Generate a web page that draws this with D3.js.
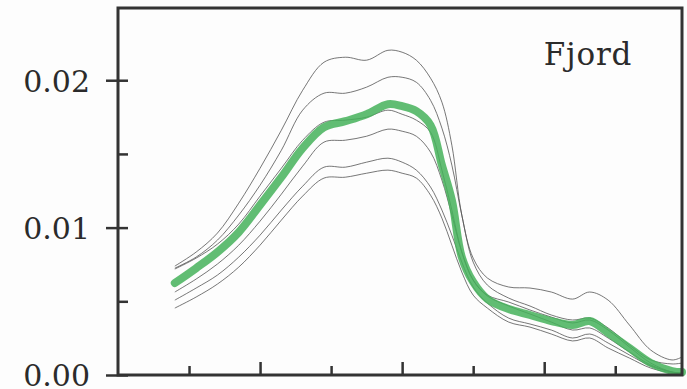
<!DOCTYPE html>
<html>
<head>
<meta charset="utf-8">
<script src="https://cdn.jsdelivr.net/npm/d3@7"></script>
<style>
  body { margin: 0; background: #fdfdfd; }
  svg text { font-family: "DejaVu Serif", "Liberation Serif", serif; fill: #2b2b2b; }
</style>
</head>
<body>
<svg id="chart" width="687" height="389"></svg>
<script>
// wavelength grid (nm), shared by every spectrum
const wavelengths = [340, 355, 370, 385, 400, 415, 430, 445, 460, 475, 490, 500, 510, 520, 528, 535, 542, 550, 560, 575, 590, 605, 620, 632, 645, 660, 675, 690, 697];

// individual spectra (thin grey lines)
const specA = [0.00739, 0.00834, 0.00963, 0.01166, 0.01403, 0.01661, 0.01932, 0.02122, 0.02156, 0.02136, 0.02203, 0.02190, 0.02136, 0.02014, 0.01851, 0.01559, 0.01085, 0.00793, 0.00658, 0.00597, 0.00590, 0.00563, 0.00515, 0.00563, 0.00508, 0.00339, 0.00169, 0.00102, 0.00122];
const specB = [0.00725, 0.00800, 0.00915, 0.01085, 0.01288, 0.01525, 0.01797, 0.01912, 0.01912, 0.01953, 0.02020, 0.02020, 0.01986, 0.01864, 0.01675, 0.01424, 0.01085, 0.00766, 0.00610, 0.00522, 0.00468, 0.00407, 0.00373, 0.00386, 0.00319, 0.00203, 0.00102, 0.00075, 0.00081];
const specC = [0.00719, 0.00793, 0.00888, 0.01024, 0.01214, 0.01403, 0.01593, 0.01715, 0.01729, 0.01749, 0.01797, 0.01769, 0.01729, 0.01647, 0.01390, 0.01119, 0.00834, 0.00644, 0.00542, 0.00495, 0.00441, 0.00393, 0.00353, 0.00373, 0.00305, 0.00190, 0.00081, 0.00020, 0.00014];
const specD = [0.00563, 0.00651, 0.00753, 0.00881, 0.01044, 0.01227, 0.01417, 0.01580, 0.01593, 0.01620, 0.01668, 0.01654, 0.01620, 0.01512, 0.01322, 0.01085, 0.00834, 0.00644, 0.00536, 0.00468, 0.00414, 0.00359, 0.00305, 0.00319, 0.00251, 0.00156, 0.00068, 0.00020, 0.00014];
const specE = [0.00508, 0.00590, 0.00678, 0.00800, 0.00949, 0.01119, 0.01281, 0.01410, 0.01410, 0.01444, 0.01471, 0.01444, 0.01390, 0.01275, 0.01119, 0.00949, 0.00766, 0.00597, 0.00488, 0.00386, 0.00346, 0.00305, 0.00251, 0.00278, 0.00217, 0.00136, 0.00061, 0.00020, 0.00014];
const specF = [0.00454, 0.00529, 0.00617, 0.00732, 0.00881, 0.01051, 0.01214, 0.01336, 0.01342, 0.01369, 0.01390, 0.01369, 0.01336, 0.01220, 0.01064, 0.00881, 0.00698, 0.00542, 0.00454, 0.00359, 0.00325, 0.00278, 0.00231, 0.00251, 0.00183, 0.00115, 0.00047, 0.00014, 0.00007];
// mean spectrum (thick green)
const meanSpec = [0.00624, 0.00725, 0.00834, 0.00969, 0.01153, 0.01342, 0.01539, 0.01681, 0.01722, 0.01769, 0.01837, 0.01824, 0.01790, 0.01695, 0.01424, 0.01186, 0.00800, 0.00631, 0.00515, 0.00447, 0.00407, 0.00366, 0.00339, 0.00366, 0.00285, 0.00183, 0.00081, 0.00027, 0.00020];

const thinSeries = [specA, specB, specC, specD, specE, specF];
const yTickValues = [0, 0.01, 0.02];
const yMinorValues = [0, 0.005, 0.01, 0.015, 0.02];
const xMajorTicks = [400, 500, 600];
const xMinorTicks = [350, 450, 550, 650];
const panelLabel = "Fjord";

const svg = d3.select("#chart");
const mLeft = 118, mRight = 682, mTop = 8, mBottom = 375;

const x = d3.scaleLinear().domain([300, 697]).range([mLeft, mRight]);
const y = d3.scaleLinear().domain([0, 0.0249]).range([mBottom, mTop]);

const line = d3.line()
  .x((d, i) => x(wavelengths[i]))
  .y(d => y(d))
  .curve(d3.curveCatmullRom.alpha(0.5));

// thin spectra
svg.append("g")
  .selectAll("path")
  .data(thinSeries)
  .enter().append("path")
  .attr("d", line)
  .attr("fill", "none")
  .attr("stroke", "#555")
  .attr("stroke-width", 1)
  .attr("stroke-opacity", 0.8);

// mean spectrum
svg.append("path")
  .datum(meanSpec)
  .attr("d", line)
  .attr("fill", "none")
  .attr("stroke", "#45b25a")
  .attr("stroke-width", 8)
  .attr("stroke-opacity", 0.85)
  .attr("stroke-linecap", "round");

// frame
svg.append("rect")
  .attr("x", mLeft).attr("y", mTop)
  .attr("width", mRight - mLeft).attr("height", mBottom - mTop)
  .attr("fill", "none")
  .attr("stroke", "#333")
  .attr("stroke-width", 3);

// y axis: inner ticks at every 0.005
const yInner = svg.append("g")
  .attr("transform", `translate(${mLeft},0)`)
  .call(d3.axisLeft(y).tickValues(yMinorValues).tickSize(-10).tickFormat(""));

// y axis: outer ticks with labels
const yOuter = svg.append("g")
  .attr("transform", `translate(${mLeft},0)`)
  .call(d3.axisLeft(y).tickValues(yTickValues).tickSize(12).tickPadding(16)
    .tickFormat(d3.format(".2f")));

yOuter.selectAll("text")
  .attr("font-size", 30)
  .attr("dy", "0.36em");

// x axis ticks, pointing inward
const xMajor = svg.append("g")
  .attr("transform", `translate(0,${mBottom})`)
  .call(d3.axisBottom(x).tickValues(xMajorTicks).tickSize(-13).tickFormat(""));
const xMinor = svg.append("g")
  .attr("transform", `translate(0,${mBottom})`)
  .call(d3.axisBottom(x).tickValues(xMinorTicks).tickSize(-9).tickFormat(""));

[yInner, yOuter, xMajor, xMinor].forEach(g => {
  g.select(".domain").remove();
  g.selectAll("line").attr("stroke", "#333").attr("stroke-width", 2.5);
});

// panel label
svg.append("text")
  .attr("x", 588).attr("y", 65)
  .attr("text-anchor", "middle")
  .attr("font-size", 31)
  .attr("letter-spacing", 0.8)
  .text(panelLabel);
</script>
</body>
</html>
